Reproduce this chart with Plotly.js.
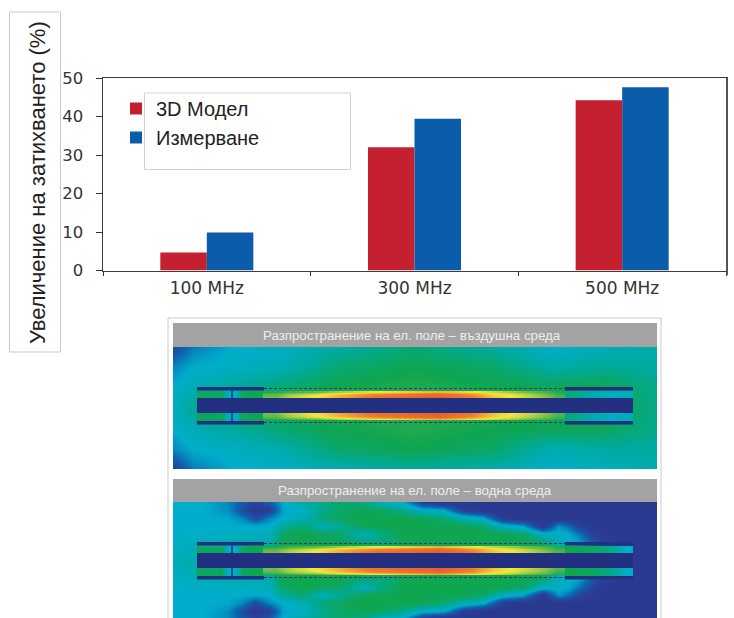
<!DOCTYPE html>
<html lang="bg"><head><meta charset="utf-8">
<script src="https://cdn.plot.ly/plotly-3.0.1.min.js"></script>
<style>html,body{margin:0;padding:0;background:#fff}#c{width:734px;height:618px}</style></head>
<body><div id="c"></div>
<script>
// ---- bar chart data
const categories = ['100 MHz','300 MHz','500 MHz'];
const modelValues = [4.7, 32, 44.2];
const measuredValues = [9.9, 39.4, 47.6];
const seriesNames = ['3D Модел','Измерване'];
const yAxisLabel = 'Увеличение на затихването (%)';
const airTitle = 'Разпространение на ел. поле – въздушна среда';
const waterTitle = 'Разпространение на ел. поле – водна среда';

// ---- field maps, values (0 navy ... 10 orange)
const fieldScale = [[0,'#2a3990'],[0.08,'#2a3f98'],[0.18,'#0d62ae'],[0.3,'#00aecb'],[0.4,'#00aa9c'],[0.5,'#0fa650'],[0.62,'#72bd48'],[0.75,'#f3e83a'],[0.88,'#ee7b2e'],[1,'#e2512a']];
const airX = [0,20,60,110,160,240,320,380,430,484];
const airY = [0,20,40,61,82,102,122];
const airZ = [
 [1.0,2.2,3.0,3.2,3.8,4.5,3.9,3.0,3.4,3.7],
 [2.4,3.0,3.2,3.5,4.5,5.0,4.7,3.8,4.1,3.9],
 [3.0,3.5,4.0,4.6,5.0,5.2,5.0,4.9,5.0,4.2],
 [3.3,4.2,4.7,5.0,5.2,5.3,5.2,5.0,5.0,4.3],
 [3.0,3.5,4.0,4.6,5.0,5.2,5.0,4.9,4.9,4.2],
 [2.4,3.0,3.2,3.7,4.6,5.0,4.7,3.6,3.9,3.9],
 [0.8,2.2,3.0,3.1,3.6,4.0,3.7,3.0,3.3,3.6]];
const waterX = [0,30,55,70,82,95,110,130,150,170,190,210,230,250,270,290,310,330,350,370,385,395,405,420,440,484];
const waterY = [0,8,16,24,32,42,58,75,85,93,101,109,116];
const wRow0 = [3.0,3.0,2.4,1.5,1.0,1.5,3.0,3.8,4.4,4.6,4.5,3.2,3.0,0.6,0,0,0,0,0,0,0,0,0,0,0,0];
const wRow1 = [3.0,3.0,2.5,1.2,0.2,0.5,2.8,3.2,4.2,4.7,4.9,4.8,4.2,3.2,3.0,0.8,0,0,0,0,0,0,0,0,0,0];
const wRow2 = [3.0,3.0,2.9,2.3,1.2,2.3,3.0,3.5,4.6,4.9,5.0,5.0,5.0,4.9,4.6,3.6,3.0,0.4,0,0,0,0,0,0,0,0];
const wRow3 = [3.0,3.0,3.0,3.0,3.0,3.0,4.0,4.6,3.4,4.2,4.9,5.0,5.0,5.0,5.0,5.0,4.7,3.4,2.8,0.2,2.6,2.0,1.0,0.2,0,0];
const wRow4 = [3.0,3.1,3.2,3.3,3.3,3.3,4.8,5.0,4.9,4.6,3.4,4.4,5.0,5.0,5.0,5.0,5.0,5.0,4.8,3.4,3.2,3.0,2.2,0.8,0,0];
const wRow5 = [3.2,3.5,3.6,3.6,3.6,3.8,5.0,5.0,5.0,5.0,4.8,4.5,5.0,5.0,5.0,5.0,5.0,5.0,5.0,4.9,3.6,3.2,3.0,1.6,0.3,0];
const wRow6 = [3.4,3.8,3.8,3.8,3.8,4.2,5.0,5.0,5.0,5.0,5.0,5.0,5.0,5.0,5.0,5.0,5.0,5.0,5.0,4.9,3.6,3.2,3.0,1.6,0.3,0];
const waterZ = [wRow0,wRow1,wRow2,wRow3,wRow4,wRow5,wRow6,wRow5,wRow4,wRow3,wRow2,wRow1,wRow0];

const stripX = [90,116,167,233,300,342,375,392];
const stripHot = [6.2,7.5,9.0,9.6,7.9,6.9,5.8];
const stripMid = [6.0,7.4,8.8,9.4,7.8,6.8,5.6];
const stripEdge = [5.2,6.0,7.4,8.2,7.0,6.0,5.2];
const stripTopY = [44,46,49,51];
const stripBottomY = [66,68,71,73];

const cellLeftX = [24,45,52,59,66,72,91];
const cellLeftZ = [4.8,4.8,3.2,3.2,4.8,5.0];
const cellRightX = [392,410,430,445,460];
const airCellRightZ = [4.4,3.6,3.2,3.4];
const waterCellRightZ = [5.0,4.8,4.2,3.2];
const cellTopY = [44,47,51];
const cellBottomY = [66,70,74];

const coreX = [24,460];
const coreY = [51,66];
const leftSleeveX = [24,91];
const rightSleeveX = [392,460];
const sleeveTopY = [40,43.5];
const sleeveBottomY = [74,77.5];
const dashX = [91,392];
const dashTopY = 41.5;
const dashBottomY = 75.5;
const separatorX = 59;

// ---- page geometry
const W = 734, H = 618;
const fx = p => p / W, fy = p => 1 - p / H;
const hm = (xa, ya, x, y, z) => ({type:'heatmap', xaxis:xa, yaxis:ya, x, y, z,
  colorscale:fieldScale, zmin:0, zmax:10, showscale:false, zsmooth:'best', hoverinfo:'skip', showlegend:false});

const traces = [
  {type:'bar', name:seriesNames[0], x:categories, y:modelValues, marker:{color:'#c42030'}},
  {type:'bar', name:seriesNames[1], x:categories, y:measuredValues, marker:{color:'#0b5cab'}},
  hm('x2','y2',airX,airY,airZ),
  hm('x3','y3',waterX,waterY,waterZ)
];
[['x2','y2',airCellRightZ],['x3','y3',waterCellRightZ]].forEach(([xa,ya,rightZ]) => {
  traces.push(hm(xa,ya,cellLeftX,cellTopY,[cellLeftZ,cellLeftZ]));
  traces.push(hm(xa,ya,cellLeftX,cellBottomY,[cellLeftZ,cellLeftZ]));
  traces.push(hm(xa,ya,cellRightX,cellTopY,[rightZ,rightZ]));
  traces.push(hm(xa,ya,cellRightX,cellBottomY,[rightZ,rightZ]));
  traces.push(hm(xa,ya,stripX,stripTopY,[stripEdge,stripMid,stripHot]));
  traces.push(hm(xa,ya,stripX,stripBottomY,[stripHot,stripMid,stripEdge]));
});

const navy = '#232f80';
const rect = (xa,ya,xs,ys) => ({type:'rect', xref:xa, yref:ya, x0:xs[0], x1:xs[1], y0:ys[0], y1:ys[1],
  fillcolor:navy, line:{width:0}, layer:'above'});
const shapes = [
  {type:'rect', xref:'paper', yref:'paper', x0:fx(9.5), x1:fx(60.5), y0:fy(12), y1:fy(352), line:{color:'#c9c9c9',width:1}, fillcolor:'rgba(255,255,255,0)', layer:'below'},
  {type:'rect', xref:'paper', yref:'paper', x0:fx(144.5), x1:fx(350.5), y0:fy(93), y1:fy(169.5), line:{color:'#d2d2d2',width:1}, fillcolor:'#ffffff', layer:'above'},
  {type:'rect', xref:'paper', yref:'paper', x0:fx(168), x1:fx(661), y0:fy(318), y1:fy(625), line:{color:'#cfcaca',width:1}, fillcolor:'#ffffff', layer:'below'},
  {type:'rect', xref:'paper', yref:'paper', x0:fx(173), x1:fx(657), y0:fy(323), y1:fy(347), line:{width:0}, fillcolor:'#a3a3a3', layer:'below'},
  {type:'rect', xref:'paper', yref:'paper', x0:fx(173), x1:fx(657), y0:fy(479), y1:fy(502), line:{width:0}, fillcolor:'#a3a3a3', layer:'below'},
  {type:'line', xref:'paper', yref:'paper', x0:fx(727), x1:fx(727), y0:fy(78), y1:fy(275), line:{color:'#555555',width:2}, layer:'above'}
];
[['x2','y2'],['x3','y3']].forEach(([xa,ya]) => {
  shapes.push(rect(xa,ya,coreX,coreY));
  [leftSleeveX,rightSleeveX].forEach(sx => {
    shapes.push(rect(xa,ya,sx,sleeveTopY));
    shapes.push(rect(xa,ya,sx,sleeveBottomY));
  });
  [dashTopY,dashBottomY].forEach(dy => shapes.push({type:'line', xref:xa, yref:ya, x0:dashX[0], x1:dashX[1], y0:dy, y1:dy,
     line:{color:navy,width:1,dash:'3px,2px'}, layer:'above'}));
  [[sleeveTopY[1],coreY[0]],[coreY[1],sleeveBottomY[0]]].forEach(ys => shapes.push({type:'line', xref:xa, yref:ya, x0:separatorX, x1:separatorX, y0:ys[0], y1:ys[1],
     line:{color:navy,width:1.5}, layer:'above'}));
});

const hiddenAxis = (dom, range, anchor) => ({domain:dom, range, anchor, visible:false, fixedrange:true});
const sans = '"Liberation Sans", Arial, sans-serif';
const layout = {
  width:W, height:H, margin:{l:0,r:0,t:0,b:0}, paper_bgcolor:'#fff', plot_bgcolor:'rgba(0,0,0,0)',
  barmode:'group', bargap:0.552, bargroupgap:0,
  font:{family:'"DejaVu Sans", sans-serif', color:'#333'},
  xaxis:{domain:[fx(103),fx(726)], anchor:'y', type:'category', tickson:'boundaries', ticks:'outside', ticklen:4, tickcolor:'#333',
    showline:true, linecolor:'#3d3d3d', linewidth:1.5, mirror:true, showgrid:false, zeroline:false,
    tickfont:{size:17,color:'#333'}, ticklabelstandoff:2},
  yaxis:{domain:[fy(270.5),fy(78)], anchor:'x', range:[0,50], dtick:10, ticks:'outside', ticklen:6, tickcolor:'#333',
    showline:true, linecolor:'#3d3d3d', linewidth:1.5, mirror:true, showgrid:false, zeroline:false,
    tickfont:{size:16.5,color:'#333'}, ticklabelstandoff:9},
  xaxis2:hiddenAxis([fx(173),fx(657)],[0,484],'y2'),
  yaxis2:hiddenAxis([fy(469),fy(347)],[122,0],'x2'),
  xaxis3:hiddenAxis([fx(173),fx(657)],[0,484],'y3'),
  yaxis3:hiddenAxis([0,fy(502)],[116,0],'x3'),
  legend:{x:fx(116), xanchor:'left', y:fy(89), yanchor:'top', bgcolor:'rgba(0,0,0,0)', borderwidth:0,
    font:{family:sans, size:20, color:'#222'}, traceorder:'normal', itemclick:false, itemdoubleclick:false},
  shapes,
  annotations:[
    {text:yAxisLabel, xref:'paper', yref:'paper', x:fx(37), y:fy(183), xanchor:'center', yanchor:'middle', textangle:-90, showarrow:false,
     font:{family:sans, size:22, color:'#222'}},
    {text:airTitle, xref:'paper', yref:'paper', x:fx(412), y:fy(335), xanchor:'center', yanchor:'middle', showarrow:false,
     font:{family:sans, size:13.3, color:'#eeeeee'}},
    {text:waterTitle, xref:'paper', yref:'paper', x:fx(415), y:fy(490.5), xanchor:'center', yanchor:'middle', showarrow:false,
     font:{family:sans, size:13.3, color:'#eeeeee'}}
  ]
};
Plotly.newPlot('c', traces, layout, {displayModeBar:false, staticPlot:true});
</script></body></html>
